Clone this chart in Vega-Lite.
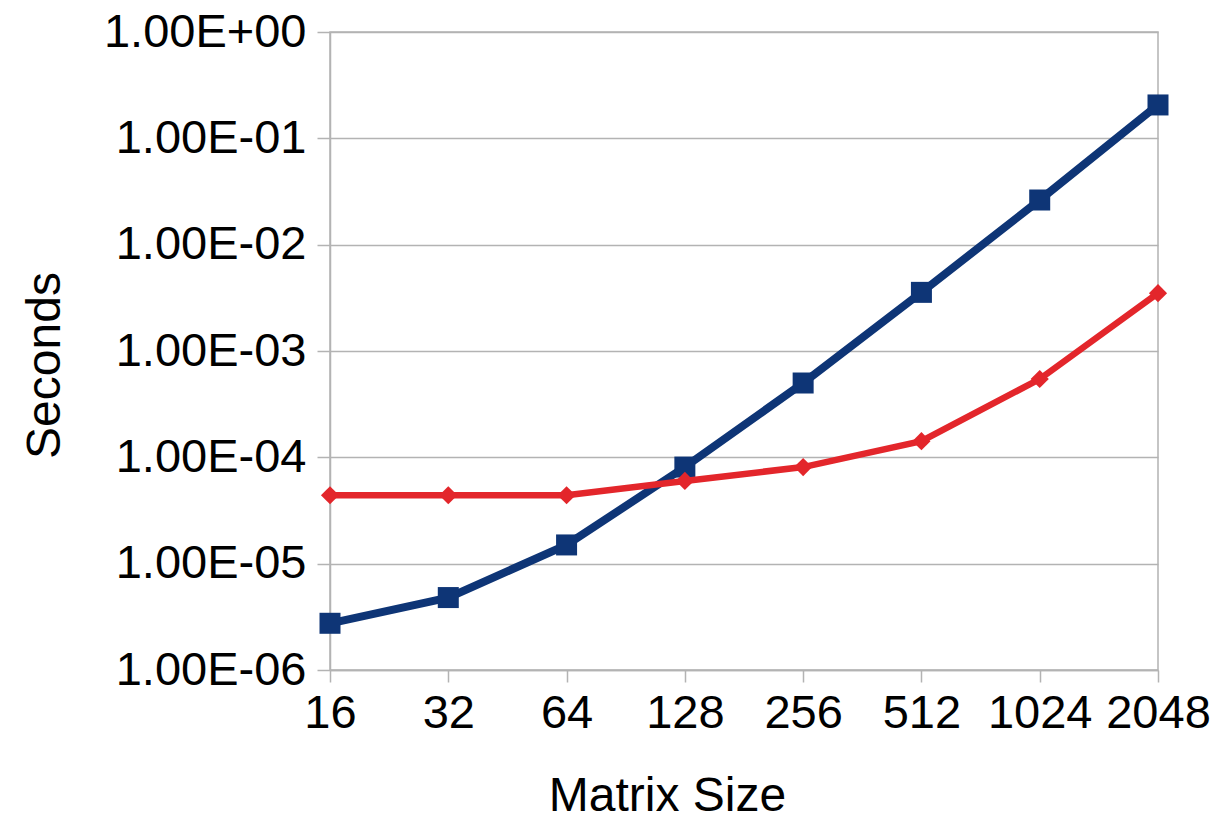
{
  "$schema": "https://vega.github.io/schema/vega-lite/v6.json",
  "autosize": "none",
  "width": 828,
  "height": 638,
  "padding": {"left": 330, "top": 32, "right": 59, "bottom": 147},
  "background": "white",
  "config": {
    "font": "Liberation Sans",
    "view": {"stroke": "#b3b3b3", "strokeWidth": 1.5}
  },
  "data": {
    "values": [
      {"size": 16, "series": "A", "seconds": 2.75e-6},
      {"size": 32, "series": "A", "seconds": 4.8e-6},
      {"size": 64, "series": "A", "seconds": 1.5e-5},
      {"size": 128, "series": "A", "seconds": 8.1e-5},
      {"size": 256, "series": "A", "seconds": 5.0e-4},
      {"size": 512, "series": "A", "seconds": 3.56e-3},
      {"size": 1024, "series": "A", "seconds": 2.63e-2},
      {"size": 2048, "series": "A", "seconds": 0.206},
      {"size": 16, "series": "B", "seconds": 4.4e-5},
      {"size": 32, "series": "B", "seconds": 4.4e-5},
      {"size": 64, "series": "B", "seconds": 4.4e-5},
      {"size": 128, "series": "B", "seconds": 6.0e-5},
      {"size": 256, "series": "B", "seconds": 8.1e-5},
      {"size": 512, "series": "B", "seconds": 1.42e-4},
      {"size": 1024, "series": "B", "seconds": 5.45e-4},
      {"size": 2048, "series": "B", "seconds": 3.5e-3}
    ]
  },
  "encoding": {
    "x": {
      "field": "size", "type": "quantitative",
      "scale": {"type": "log", "base": 2, "domain": [16, 2048], "nice": false},
      "axis": {
        "title": "Matrix Size", "values": [16, 32, 64, 128, 256, 512, 1024, 2048],
        "format": "d", "grid": false, "domainColor": "#b3b3b3", "domainWidth": 1.5,
        "tickColor": "#b3b3b3", "tickWidth": 1.5, "tickSize": 12,
        "labelFontSize": 47, "labelColor": "black", "labelPadding": 8, "labelFlush": false, "labelLimit": 0,
        "titleFontSize": 48, "titleFontWeight": "normal", "titleColor": "black",
        "titleX": 337, "titleY": 126, "titleBaseline": "middle", "titleAlign": "center"
      }
    },
    "y": {
      "field": "seconds", "type": "quantitative",
      "scale": {"type": "log", "domain": [1e-6, 1], "nice": false},
      "axis": {
        "title": "Seconds",
        "values": [1e-6, 1e-5, 1e-4, 1e-3, 1e-2, 1e-1, 1],
        "labelExpr": "'1.00E' + (datum.value >= 1 ? '+' : '-') + '0' + abs(round(log(datum.value)/LN10))",
        "grid": true, "gridColor": "#b3b3b3", "gridWidth": 1.5,
        "domainColor": "#b3b3b3", "domainWidth": 1.5,
        "tickColor": "#b3b3b3", "tickWidth": 1.5, "tickSize": 13,
        "labelFontSize": 47, "labelColor": "black", "labelPadding": 11, "labelFlush": false, "labelLimit": 0,
        "titleFontSize": 48, "titleFontWeight": "normal", "titleColor": "black",
        "titleAngle": -90, "titleX": -285, "titleY": 333, "titleBaseline": "middle", "titleAlign": "center"
      }
    },
    "color": {
      "field": "series", "type": "nominal",
      "scale": {"domain": ["A", "B"], "range": ["#0e3576", "#e3262b"]},
      "legend": null
    }
  },
  "layer": [
    {
      "transform": [{"filter": "datum.series == 'A'"}],
      "mark": {"type": "line", "strokeWidth": 8},
      "encoding": {}
    },
    {
      "transform": [{"filter": "datum.series == 'A'"}],
      "mark": {"type": "point", "shape": "square", "filled": true, "opacity": 1, "size": 441},
      "encoding": {}
    },
    {
      "transform": [{"filter": "datum.series == 'B'"}],
      "mark": {"type": "line", "strokeWidth": 6.5},
      "encoding": {}
    },
    {
      "transform": [{"filter": "datum.series == 'B'"}],
      "mark": {"type": "point", "shape": "diamond", "filled": true, "opacity": 1, "size": 330},
      "encoding": {}
    }
  ]
}
